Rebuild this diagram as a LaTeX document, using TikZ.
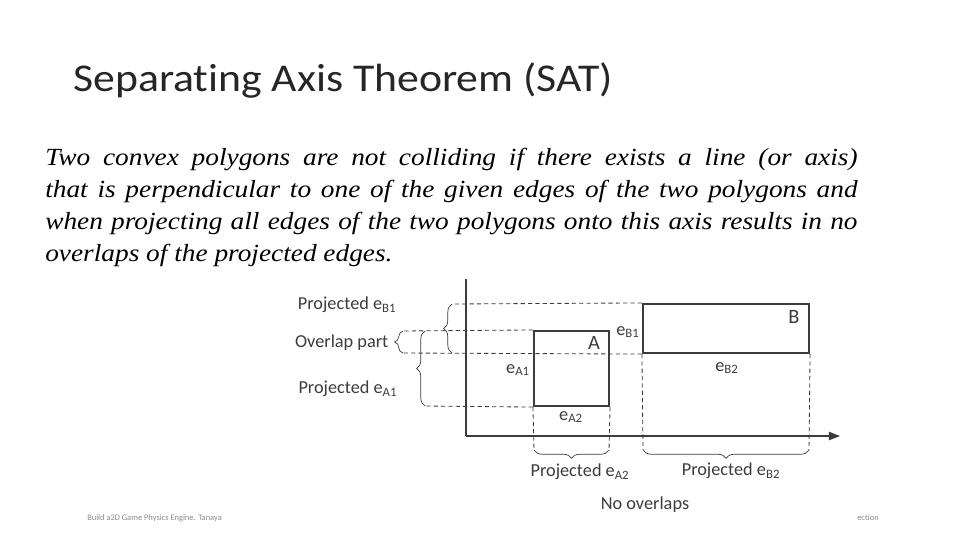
\documentclass[tikz,border=0pt]{standalone}
\usepackage{fontspec}
\setmainfont{Liberation Serif}
\newfontfamily\calibri[Ligatures=NoCommon]{Carlito}
\usepackage{xcolor}
\usetikzlibrary{positioning}
\usetikzlibrary{arrows.meta}
\usetikzlibrary{decorations.pathreplacing}
\definecolor{inkgray}{HTML}{3C3C3C}
\definecolor{footgray}{HTML}{8A8A8A}
\tikzset{
    lbl/.style = {font=\calibri\fontsize{13}{15}\selectfont, text=inkgray, inner sep=1pt},
    box/.style = {draw=inkgray, line width=1.5pt, inner sep=0pt, rectangle},
    proj/.style = {draw=inkgray, line width=0.6pt, dash pattern=on 3pt off 2.2pt},
    brc/.style = {draw=inkgray, line width=0.5pt, decorate, decoration={brace, amplitude=6pt}},
    axis/.style = {draw=inkgray, line width=0.9pt}
}

\begin{document}
\begin{tikzpicture}[x=0.025cm, y=-0.025cm]
    \useasboundingbox (0,0) rectangle (960,540);
    \node [anchor=base west, inner sep=0pt, xscale=1.11, transform shape, font=\calibri\fontsize{28}{32}\selectfont, text=black!85] (title) at (73,91) {Separating Axis Theorem (SAT)};
    \node [anchor=north west, inner sep=0pt, xscale=1.11, transform shape, text width=18.29cm, align=justify, font=\fontsize{17.5}{22.8}\selectfont\itshape, text=black] (rule) at (45,148)
        {Two convex polygons are not colliding if there exists a line (or axis)\linebreak
         that is perpendicular to one of the given edges of the two polygons and\linebreak
         when projecting all edges of the two polygons onto this axis results in no\linebreak
         overlaps of the projected edges.};

    % axes
    \coordinate (origin) at (466,436);
    \coordinate (ytop) at (466,279);
    \coordinate (xend) at (840,436);
    \draw [axis] (origin) -- (ytop);
    \draw [axis, -{Triangle[length=8pt, width=6pt]}] (origin) -- (xend);

    % the two boxes
    \node [box, minimum width=1.875cm, minimum height=1.875cm] (boxA) at (571.5,368.5) {};
    \node [box, minimum width=4.15cm, minimum height=1.225cm] (boxB) at (726,328.5) {};
    \node [lbl, font=\calibri\fontsize{14.5}{16}\selectfont] (nameA) at (594,343) {A};
    \node [lbl, font=\calibri\fontsize{14.5}{16}\selectfont] (nameB) at (794,317) {B};

    % projections on the vertical axis
    \coordinate (bTopEnd) at (452,304);
    \coordinate (aTopEnd) at (403,331);
    \coordinate (bBotEnd) at (403,353);
    \coordinate (aBotEnd) at (425,406);
    \draw [proj] (boxB.north west) -- (bTopEnd);
    \draw [proj] (boxA.north west) -- (aTopEnd);
    \draw [proj] (boxB.south west) -- (bBotEnd);
    \draw [proj] (boxA.south west) -- (aBotEnd);

    % projections on the horizontal axis
    \coordinate (aLeftEnd) at (534,450);
    \coordinate (aRightEnd) at (609,450);
    \coordinate (bLeftEnd) at (643,450);
    \coordinate (bRightEnd) at (809,450);
    \draw [proj] (boxA.south west) -- (aLeftEnd);
    \draw [proj] (boxA.south east) -- (aRightEnd);
    \draw [proj] (boxB.south west) -- (bLeftEnd);
    \draw [proj] (boxB.south east) -- (bRightEnd);

    % braces
    \draw [brc] (452,353) -- (bTopEnd);
    \draw [brc] (bBotEnd) -- (aTopEnd);
    \draw [brc] (aBotEnd) -- (425,331);
    \draw [brc] (aRightEnd) -- (aLeftEnd);
    \draw [brc] (bRightEnd) -- (bLeftEnd);

    % edge labels
    \node [lbl] (eA1) at (518,370) {e\textsubscript{A1}};
    \node [lbl] (eA2) at (571,417) {e\textsubscript{A2}};
    \node [lbl] (eB1) at (628,332) {e\textsubscript{B1}};
    \node [lbl] (eB2) at (727,368) {e\textsubscript{B2}};

    % projection labels
    \node [lbl, anchor=east] (projB1) at (398,305) {Projected e\textsubscript{B1}};
    \node [lbl, anchor=east] (overlap) at (390,343) {Overlap part};
    \node [lbl, anchor=east] (projA1) at (399,389) {Projected e\textsubscript{A1}};
    \node [lbl] (projA2) at (580,472) {Projected e\textsubscript{A2}};
    \node [lbl] (projB2) at (731,471) {Projected e\textsubscript{B2}};
    \node [lbl] (noover) at (645,505) {No overlaps};

    % footer
    \node [anchor=base west, inner sep=0pt, font=\calibri\fontsize{6}{7}\selectfont, text=footgray] (footL) at (87,520) {Build a2D Game Physics Engine. Tanaya};
    \node [anchor=base west, inner sep=0pt, font=\calibri\fontsize{6}{7}\selectfont, text=footgray] (footR) at (857,520) {ection};
\end{tikzpicture}
\end{document}
